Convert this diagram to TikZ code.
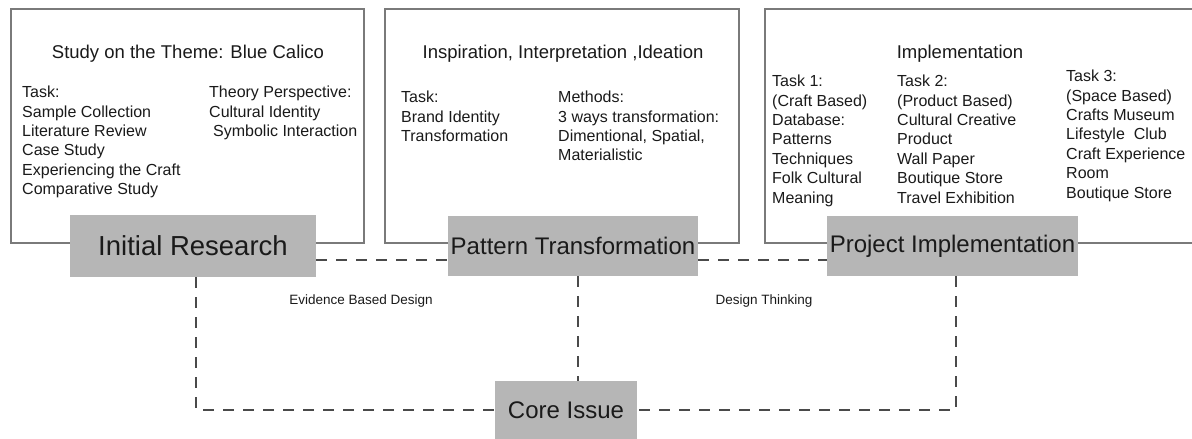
\documentclass[tikz,border=0pt]{standalone}
\usepackage{fontspec}
\setmainfont{Liberation Sans}
\usepackage{tikz}

\definecolor{framegray}{HTML}{7A7A7A}
\definecolor{stagefill}{HTML}{B6B6B6}
\definecolor{linkgray}{HTML}{4A4A4A}
\definecolor{inkgray}{HTML}{1A1A1A}

\begin{document}
\begin{tikzpicture}[x=1pt,y=-1pt,color=inkgray,
	panel/.style={shape=rectangle,draw=framegray,line width=1.8pt,inner sep=0pt},
	stage/.style={shape=rectangle,fill=stagefill,inner sep=0pt,minimum height=60pt,font=\fontsize{24}{28}\selectfont},
	heading/.style={font=\fontsize{18.5}{22}\selectfont},
	list/.style={anchor=north west,align=left,inner sep=0pt,font=\fontsize{16}{19.4}\selectfont},
	link/.style={draw=linkgray,line width=1.2pt,dash pattern=on 11pt off 9pt},
	note/.style={font=\fontsize{13.5}{16}\selectfont}]
	
	\fill[white] (0,0) rectangle (1192,439);
	\clip (0,0) rectangle (1192,439);
	
	\node[panel,minimum width=353pt,minimum height=234pt] (b1) at (187.5,126) {};
	\node[panel,minimum width=354pt,minimum height=234pt] (b2) at (562,126) {};
	\node[panel,minimum width=445pt,minimum height=234pt] (b3) at (987.5,126) {};
	
	\node[heading] (t1) at (188,54) {Study on the Theme: Blue Calico};
	\node[heading] (t2) at (563,54) {Inspiration, Interpretation ,Ideation};
	\node[heading] (t3) at (960,54) {Implementation};
	
	\node[list] (task1) at (22,86) {Task:\\Sample Collection\\Literature Review\\Case Study\\Experiencing the Craft\\Comparative Study};
	\node[list] (theory) at (209,86) {Theory Perspective:\\Cultural Identity\\\hspace{4pt}Symbolic Interaction};
	\node[list] (task2) at (401,91) {Task:\\Brand Identity\\Transformation};
	\node[list] (methods) at (558,91) {Methods:\\3 ways transformation:\\Dimentional, Spatial,\\Materialistic};
	\node[list] (craft) at (772,75) {Task 1:\\(Craft Based)\\Database:\\Patterns\\Techniques\\Folk Cultural\\Meaning};
	\node[list] (product) at (897,75) {Task 2:\\(Product Based)\\Cultural Creative\\Product\\Wall Paper\\Boutique Store\\Travel Exhibition};
	\node[list] (space) at (1066,70) {Task 3:\\(Space Based)\\Crafts Museum\\Lifestyle\ \ Club\\Craft Experience\\Room\\Boutique Store};
	
	\node[stage,minimum width=246pt,minimum height=62pt,font=\fontsize{27.5}{32}\selectfont] (ir) at (193,246) {Initial Research};
	\node[stage,minimum width=250pt] (pt) at (573,246) {Pattern Transformation};
	\node[stage,minimum width=251pt] (pi) at (952.5,246) {Project Implementation};
	\node[stage,minimum width=142pt,minimum height=58pt] (ci) at (566,410) {Core Issue};
	
	\coordinate (irfoot) at ([xshift=3pt]ir.south);
	\coordinate (ptfoot) at ([xshift=5pt]pt.south);
	\coordinate (pifoot) at ([xshift=3.5pt]pi.south);
	
	\path[link] ([yshift=-14pt]ir.east) edge ([yshift=-14pt]pt.west);
	\path[link] ([yshift=-14pt]pt.east) edge ([yshift=-14pt]pi.west);
	\draw[link] (irfoot) -- (irfoot |- ci.west) -- (ci.west);
	\draw[link] (pifoot) -- (pifoot |- ci.east) -- (ci.east);
	\draw[link] (ptfoot) -- (ptfoot |- ci.north);
	
	\node[note] (ebd) at (361,301) {Evidence Based Design};
	\node[note] (dt) at (764,301) {Design Thinking};
	
\end{tikzpicture}
\end{document}
